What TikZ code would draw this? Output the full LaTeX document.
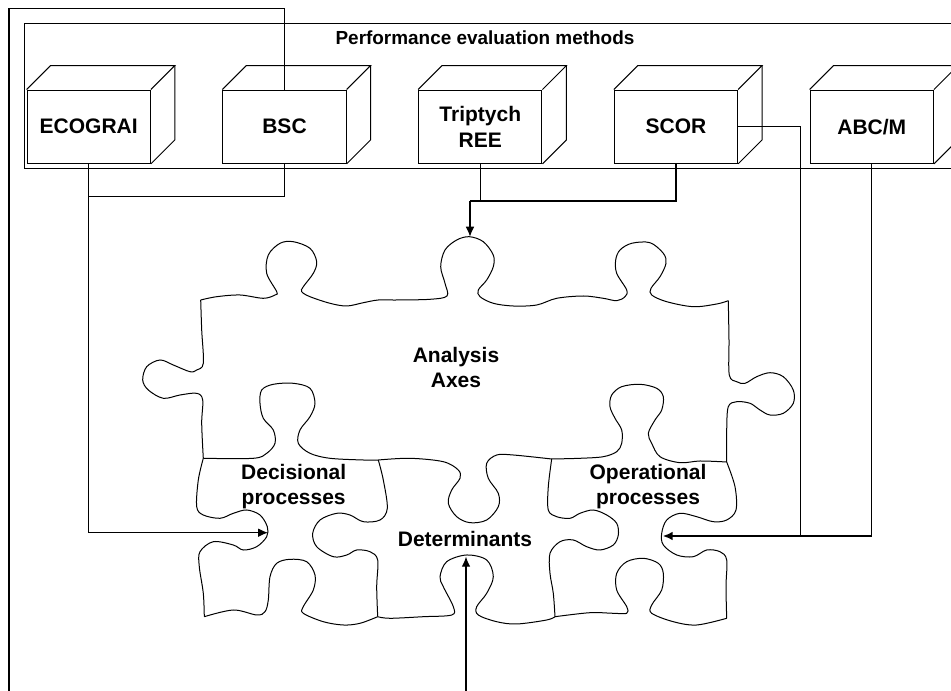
\documentclass[tikz,border=0pt]{standalone}
\usepackage{fontspec}
\setmainfont{Liberation Sans}
\usetikzlibrary{calc,arrows.meta}
\begin{document}
\begin{tikzpicture}[x=0.75pt,y=-0.75pt,
  conn/.style={line width=0.8pt},
  arr/.style={conn,-{Latex[length=7.5pt,width=6.5pt]}},
  mbox/.style={draw,line width=0.75pt,minimum width=92.5pt,minimum height=55pt,inner sep=0pt,align=center,
    font=\bfseries\fontsize{15.75}{19.5}\selectfont},
  lbl/.style={align=center,inner sep=0pt,font=\bfseries\fontsize{15.75}{18.75}\selectfont},
  ttl/.style={inner sep=0pt,font=\bfseries\fontsize{14.2}{17}\selectfont},
  piece/.style={line width=0.75pt}]
\useasboundingbox (0,0) rectangle (951,691);
\clip (0,0) rectangle (951,691);

% group frame and title
\draw[line width=0.75pt] (24,23.7) rectangle (990,168.7);
\node[ttl,anchor=base] (title) at (485,45) {Performance evaluation methods};

% method boxes
\node[mbox] (ecograi) at (88.7,126.7) {ECOGRAI};
\node[mbox] (bsc) at (284.5,126.7) {BSC};
\node[mbox] (trip) at (480.3,126.7) {Triptych\\REE};
\node[mbox] (scor) at (676,126.7) {SCOR};
\node[mbox] (abc) at (871.8,126.7) {ABC/M};
\foreach \b in {ecograi,bsc,trip,scor,abc}{
  \draw[line width=0.75pt] (\b.north west) -- ++(24,-24) -- ($(\b.north east)+(24,-24)$) -- (\b.north east);
  \draw[line width=0.75pt] ($(\b.north east)+(24,-24)$) -- ($(\b.south east)+(24,-24)$) -- (\b.south east);
}

% puzzle pieces
\draw[piece] plot[smooth,tension=0.55] coordinates {(200.7,300) (216.7,296.7) (240,295) (263.3,298.3) (275,295) (276.7,291.7) (266.7,273.3) (268.3,255) (280,243.3) (293.3,241.7) (310,248.3) (316.7,261.7) (313.3,273.3) (303.3,286.7) (301.7,291.7) (310,296.7) (330,303.3) (346.7,306) (363.3,302.7) (378.3,300) (396.7,300) (430,299.3) (447,296) (445,283.3) (440.7,266.7) (445,250) (456.7,240) (469.3,236.7) (483.3,241.7) (493.3,255) (493.3,266.7) (486.7,280) (478.3,290) (480,296.7) (493.3,303.3) (513.3,306) (536.7,305) (556.7,298.3) (583.3,296) (603.3,298.3) (616.7,300.7) (625,296.7) (626.7,290) (616.7,273.3) (615.7,260) (620,250) (631.7,243.3) (650,242.7) (663.3,253.3) (666,263.3) (660,276.7) (651,288.3) (651.7,295) (666.7,301.7) (693.3,306.7) (716.7,304) (728.3,300.7)};
\draw[piece] plot[smooth,tension=0.55] coordinates {(200.7,300) (201.7,330) (203.3,363.3) (196.7,370) (190,371.7) (173.3,365) (160,360) (146.7,366.7) (142.7,380) (148.3,390) (163.3,398.3) (180,395) (196.7,393.3) (202.7,400) (201.7,423.3) (203.3,458.3)};
\draw[piece] plot[smooth,tension=0.55] coordinates {(728.3,300.7) (729,340) (729.3,375) (736.7,381.7) (745,383.3) (756.7,376.7) (770,372.7) (783.3,376.7) (793.3,390) (793.3,403.3) (783.3,413.3) (770,415) (760,410) (750,403.3) (736.7,401.7) (728.3,406.7) (726.7,430) (726.7,462)};
\draw[piece] plot[smooth,tension=0.55] coordinates {(203.3,458.3) (253.3,458.3) (266.7,453.3) (275,443.3) (273.3,430) (263.3,418.3) (260,403.3) (261.7,390) (273.3,384.3) (293.3,383.3) (310,388.3) (315,403.3) (310,416.7) (300,430) (298.3,443.3) (310,453.3) (330,458.3) (363.3,460) (378.3,460)};
\draw[piece] plot[smooth,tension=0.55] coordinates {(378.3,460) (410,458.3) (443.3,461.7) (458.3,470) (460,478.3) (451.7,490) (448.3,503.3) (456.7,516.7) (470,522.7) (486.7,520) (498.3,506.7) (498.3,493.3) (488.3,478.3) (486.7,463.3) (496.7,455) (513.3,455) (551.7,459)};
\draw[piece] plot[smooth,tension=0.55] coordinates {(551.7,459) (580,458.3) (603.3,456.7) (616.7,451.7) (621.7,443.3) (621.7,430) (615,418.3) (610,406.7) (611.7,395) (621.7,386.7) (640,384.3) (656.7,388.3) (663.3,396.7) (661.7,410) (655,420) (648.3,433.3) (651.7,443.3) (660,456.7) (680,462.7) (700,461) (726.7,462)};
\draw[piece] plot[smooth,tension=0.55] coordinates {(203.3,458.3) (198.3,480) (196.7,506.7) (203.3,515) (220,518.3) (233.3,513.3) (246.7,510) (260,515) (267.3,526.7) (266.7,536.7) (256.7,546.7) (243.3,550) (233.3,545) (213.3,541.7) (200,551.7) (199.3,566.7) (203.3,593.3) (204.3,616.7)};
\draw[piece] plot[smooth,tension=0.55] coordinates {(204.3,616.7) (233.3,610) (256.7,615) (265,611.7) (268.3,600) (270,576.7) (276.7,563.3) (290,559.3) (306.7,561.7) (315,575) (313.3,590) (303.3,606.7) (303.3,613.3) (323.3,621.7) (343.3,625) (360,623.3) (377.7,616.7)};
\draw[piece] plot[smooth,tension=0.55] coordinates {(378.3,460) (383.3,480) (387.3,508.3) (380,520) (363.3,521.7) (350,515) (336.7,513.3) (320,520) (312.7,533.3) (316.7,546.7) (333.3,556.7) (346.7,555) (356.7,550) (370,551.7) (377.7,560) (376.7,586.7) (377.7,616.7)};
\draw[piece] plot[smooth,tension=0.55] coordinates {(377.7,616.7) (390,618.3) (423.3,616.7) (451.7,615) (453.3,606.7) (443.3,586.7) (440,576.7) (446.7,561.7) (466.7,555) (486.7,560) (493.3,576.7) (486.7,593.3) (476.7,606.7) (478.3,615) (496.7,621.7) (516.7,624) (546.7,620) (555,616.7)};
\draw[piece] plot[smooth,tension=0.55] coordinates {(551.7,459) (548.3,486.7) (548.3,510) (556.7,516.7) (570,518.3) (580,513.3) (593.3,510) (606.7,515) (616.7,523.3) (618.3,535) (613.3,545) (600,550) (586.7,546.7) (573.3,540) (560,541.7) (550,553.3) (550,573.3) (553.3,593.3) (555,616.7)};
\draw[piece] plot[smooth,tension=0.55] coordinates {(555,616.7) (590,612.7) (613.3,613.3) (626.7,613.3) (626.7,606.7) (616.7,590) (616.7,573.3) (626.7,561.7) (643.3,558.3) (658.3,563.3) (663.3,573.3) (661.7,590) (651.7,605) (651.7,613.3) (673.3,621.7) (696.7,625) (726.7,618.3)};
\draw[piece] plot[smooth,tension=0.55] coordinates {(726.7,462) (735,486.7) (736,510) (726.7,520) (713.3,521.7) (696.7,516.7) (680,513.3) (666.7,520) (661.7,533.3) (663.3,545) (676.7,555) (693.3,556.7) (706.7,550) (720,551.7) (726.7,560) (726,586.7) (726.7,618.3)};

% piece labels
\node[lbl] (ana) at (456,367.8) {Analysis\\Axes};
\node[lbl] (dec) at (293.7,486.2) {Decisional\\processes};
\node[lbl] (op) at (648,486.2) {Operational\\processes};
\node[lbl,anchor=base] (det) at (465,546.7) {Determinants};

% connector coordinates
\coordinate (anaTip) at (470,236.7);
\coordinate (decTip) at (268,532.7);
\coordinate (opTip) at (662.7,536);
\coordinate (detTip) at (466,556.7);
\coordinate (j1) at (88.7,196.3);
\coordinate (j2) at (470,201);
\coordinate (j3) at (800.7,536);
\coordinate (frameTL) at (9,8.7);
\coordinate (frameBL) at (9,720);

% connectors
\draw[conn] (bsc.south) |- (j1);
\draw[arr] (ecograi.south) |- (decTip);
\draw[conn] (scor.south) |- (j2);
\draw[conn] (trip.south) -- (trip.south |- j2);
\draw[arr] (j2) -- (anaTip);
\draw[conn] (scor.east) -| (j3);
\draw[arr,line width=1.3pt] (j3) -- (opTip);
\draw[conn,line width=1pt] (abc.south) |- (j3);
\draw[arr] (bsc.north) |- (frameTL) -- (frameBL) -| (detTip);
\end{tikzpicture}
\end{document}
